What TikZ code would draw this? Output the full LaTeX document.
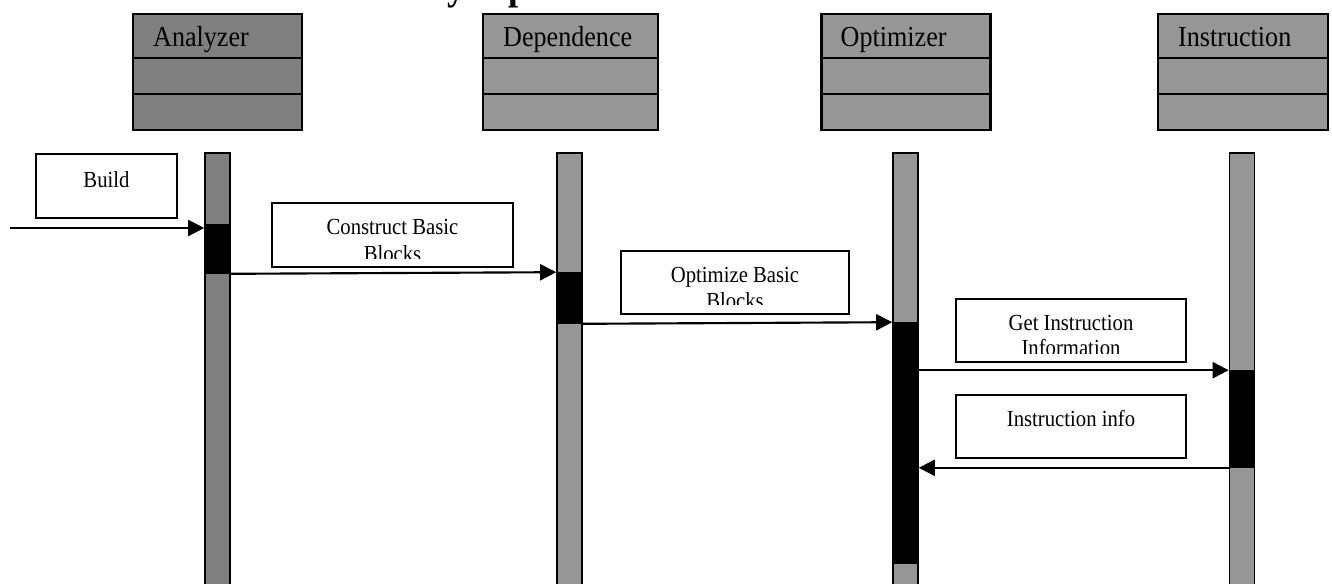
\documentclass[tikz,border=0pt]{standalone}
\usepackage{fontspec}
\setmainfont[FakeStretch=0.9]{Liberation Serif}
\usetikzlibrary{arrows.meta,calc}

\definecolor{darkgrey}{HTML}{808080}
\definecolor{midgrey}{HTML}{969696}

\begin{document}
\begin{tikzpicture}[x=0.75pt,y=-0.75pt,
  classbox/.style={draw=black, line width=1.6pt, inner sep=0pt,
    minimum height=87pt},
  classname/.style={anchor=base west, inner sep=0pt,
    font=\fontsize{21.75}{24}\selectfont},
  lifeline/.style={draw=black, line width=1.2pt, inner sep=0pt,
    minimum width=18.75pt, minimum height=327.75pt},
  activation/.style={fill=black, draw=black, line width=1.2pt, inner sep=0pt,
    minimum width=18.75pt},
  msgbox/.style={draw=black, fill=white, line width=1.5pt, inner sep=0pt},
  msgtext/.style={anchor=base, inner sep=0pt,
    font=\fontsize{17.25}{19.5}\selectfont},
  msgarrow/.style={line width=1.6pt, -{Triangle[length=12pt,width=12pt]}},
  headglyph/.style={anchor=base west, inner sep=0pt,
    font=\fontsize{30}{30}\selectfont\bfseries}
]
\fill[white] (0,0) rectangle (1332,583);
\useasboundingbox (0,0) rectangle (1332,583);
\clip (0,0) rectangle (1332,583);

% lower part of the heading line above the diagram
\node[headglyph] (ttly) at (447,-1) {y};
\node[headglyph] (ttlp) at (508,-1) {p};

% class boxes
\node[classbox, fill=darkgrey, minimum width=126.75pt] (hA) at (217.5,72) {};
\node[classbox, fill=midgrey, minimum width=131.25pt] (hD) at (570.5,72) {};
\node[classbox, fill=midgrey, minimum width=126.75pt] (hO) at (906,72) {};
\node[classbox, fill=midgrey, minimum width=127.5pt] (hI) at (1243,72) {};
\foreach \h in {hA,hD,hO,hI}{
  \draw[line width=1.6pt] ($(\h.north west)+(0,45)$) -- ($(\h.north east)+(0,45)$);
  \draw[line width=1.6pt] ($(\h.north west)+(0,81)$) -- ($(\h.north east)+(0,81)$);
}
\node[classname] (nA) at ($(hA.north west)+(21,34)$) {Analyzer};
\node[classname] (nD) at ($(hD.north west)+(21,34)$) {Dependence};
\node[classname] (nO) at ($(hO.north west)+(20,34)$) {Optimizer};
\node[classname] (nI) at ($(hI.north west)+(21,34)$) {Instruction};

% lifelines
\node[lifeline, fill=darkgrey] (lA) at (217.5,371.5) {};
\node[lifeline, fill=midgrey] (lD) at (569.5,371.5) {};
\node[lifeline, fill=midgrey] (lO) at (905.5,371.5) {};
\node[lifeline, fill=midgrey] (lI) at (1242,371.5) {};

% activation bars
\node[activation, minimum height=36pt] (actA) at (217.5,249) {};
\node[activation, minimum height=37.5pt] (actD) at (569.5,298) {};
\node[activation, minimum height=180pt] (actO) at (905.5,443) {};
\node[activation, minimum height=72pt] (actI) at (1242,419) {};

% message labels
\node[msgbox, minimum width=105.75pt, minimum height=48pt] (bBuild) at (106.5,186) {};
\node[msgtext] (tBuild) at (106.5,187) {Build};

\node[msgbox, minimum width=180.75pt, minimum height=48pt] (bCons) at (392.5,235) {};
\begin{scope}
  \clip (bCons.north west) rectangle ($(bCons.south east)+(0,-10)$);
  \node[msgtext] (tCons1) at (392.5,234) {Construct Basic};
  \node[msgtext] (tCons2) at (392.5,261) {Blocks};
\end{scope}

\node[msgbox, minimum width=171pt, minimum height=47.25pt] (bOpt) at (735,282.5) {};
\begin{scope}
  \clip (bOpt.north west) rectangle ($(bOpt.south east)+(0,-11)$);
  \node[msgtext] (tOpt1) at (735,282) {Optimize Basic};
  \node[msgtext] (tOpt2) at (735,308) {Blocks};
\end{scope}

\node[msgbox, minimum width=172.5pt, minimum height=47.25pt] (bGet) at (1071,330.5) {};
\begin{scope}
  \clip (bGet.north west) rectangle ($(bGet.south east)+(0,-10)$);
  \node[msgtext] (tGet1) at (1071,330) {Get Instruction};
  \node[msgtext] (tGet2) at (1071,355) {Information};
\end{scope}

\node[msgbox, minimum width=172.5pt, minimum height=47.25pt] (bInfo) at (1071,426.5) {};
\node[msgtext] (tInfo) at (1071,426) {Instruction info};

% messages
\coordinate (src) at (10,228);
\draw[msgarrow] (src) -- (src -| actA.west);
\draw[msgarrow] (actA.south east) -- (actD.north west);
\draw[msgarrow] (actD.south east) -- (actO.north west);
\draw[msgarrow] (actO.east |- actI.north) -- (actI.north west);
\draw[msgarrow] (actI.south west) -- (actO.east |- actI.south);
\end{tikzpicture}
\end{document}
